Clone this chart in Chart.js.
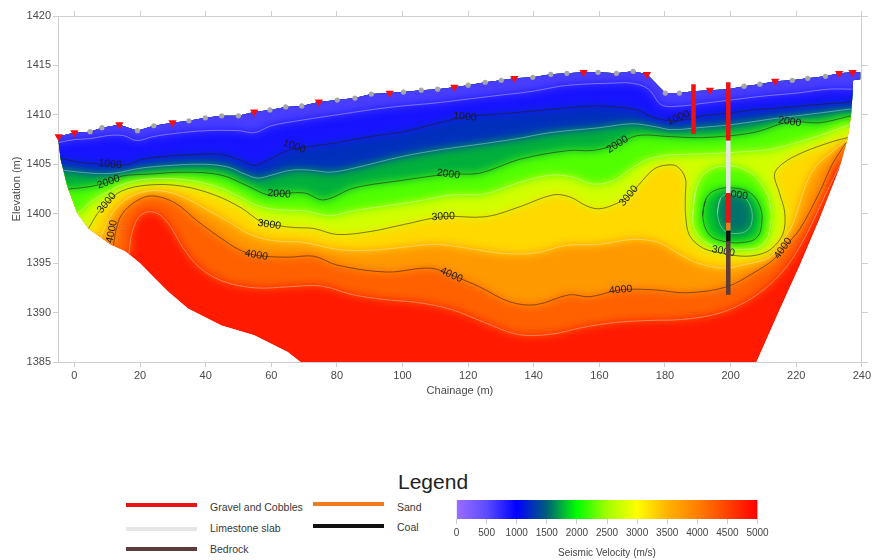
<!DOCTYPE html>
<html>
<head>
<meta charset="utf-8">
<script src="https://cdn.jsdelivr.net/npm/chart.js@4.4.1/dist/chart.umd.min.js"></script>
<style>
  body { margin: 0; background: #fff; font-family: Arial, "Liberation Sans", sans-serif; overflow: hidden; }
  #wrap { position: relative; width: 873px; height: 560px; }
  #main { position: absolute; left: 0; top: 0; }
  #bar { position: absolute; left: 440px; top: 495px; }
  .t { position: absolute; font-size: 10.5px; line-height: 12px; color: #383838; white-space: nowrap; }
  .ln { position: absolute; width: 71px; height: 4px; }
</style>
</head>
<body>
<div id="wrap">
  <canvas id="main" width="873" height="410"></canvas>
  <div class="t" style="left:398px;top:471px;font-size:21px;line-height:21px;color:#222">Legend</div>
  <div id="legendRows"></div>
  <canvas id="bar" width="340" height="65"></canvas>
</div>
<script>
// axes
const xTicks = [0, 20, 40, 60, 80, 100, 120, 140, 160, 180, 200, 220, 240];
const yTicks = [1385, 1390, 1395, 1400, 1405, 1410, 1415, 1420];
const velTicks = [0, 500, 1000, 1500, 2000, 2500, 3000, 3500, 4000, 4500, 5000];

// colour scale (m/s)
const cmapValues = [0, 500, 1000, 1500, 2000, 2500, 3000, 3500, 4000, 4500, 5000];
const cmapColors = ['#9c6cff', '#5b4dff', '#0000ff', '#005f78', '#00ff00', '#a2ff00',
                    '#ffff00', '#ffb300', '#ff7f00', '#ff4200', '#ff0000'];

// ground surface (chainage, elevation)
const surface = [[-5,1407.8],[0,1408.2],[4.8,1408.3],[8.4,1408.7],[13.7,1409.0],[19.2,1408.4],[24.2,1408.9],
  [29.9,1409.2],[34.9,1409.4],[39.9,1409.7],[44.9,1409.9],[50,1409.9],[54.8,1410.3],[59.6,1410.5],[64.4,1410.8],
  [69.3,1410.9],[74.5,1411.3],[80.1,1411.5],[85.5,1411.7],[90.5,1412.1],[96.1,1412.2],[100.3,1412.3],[105.7,1412.5],
  [110.7,1412.6],[115.8,1412.8],[120,1413.0],[125.2,1413.3],[130.1,1413.5],[134.1,1413.7],[139.7,1413.8],[145.2,1414.1],
  [150.1,1414.2],[155.2,1414.3],[159.6,1414.3],[165.2,1414.2],[170.3,1414.4],[174.5,1414.1],[180.1,1412.2],[184.4,1412.2],
  [188.7,1412.4],[193.7,1412.5],[199.3,1412.6],[204.1,1412.9],[208.9,1413.1],[213.6,1413.4],[218.8,1413.5],[223.5,1413.7],
  [228.9,1413.9],[233.1,1414.2],[237.2,1414.3],[239.5,1414.3]];
const rightEdge = [[239.5,1413.6],[237.3,1413.5],[237.2,1412.2],[236.7,1409.9],[235.6,1407.5],[233.1,1404.5],
  [227,1399.4],[221,1394.7],[215,1390.3],[207.9,1385]];
const leftEdge = [[68.9,1385],[65,1386.0],[54.8,1387.7],[44.8,1388.7],[34.6,1390.4],[28.6,1392.1],[23.5,1393.8],
  [20,1395.0],[15.5,1396.2],[10.9,1396.9],[4.3,1398.5],[0.8,1400.1],[-2.2,1402.8],[-4.2,1405.5],[-5,1407.8]];

// shots and geophones on the surface
const shots = [[-4.8,1407.8],[0,1408.2],[13.7,1409.0],[29.9,1409.2],[54.8,1410.3],[74.5,1411.3],[96.1,1412.2],
  [115.8,1412.8],[134.1,1413.7],[155.2,1414.3],[174.5,1414.1],[193.7,1412.5],[213.6,1413.4],[233.1,1414.2],[237.2,1414.3]];
const geophones = [[4.8,1408.3],[8.4,1408.7],[19.2,1408.4],[24.2,1408.9],[34.9,1409.4],[39.9,1409.7],[44.9,1409.9],
  [50,1409.9],[59.6,1410.5],[64.4,1410.8],[69.3,1410.9],[80.1,1411.5],[85.5,1411.7],[90.5,1412.1],[100.3,1412.3],
  [105.7,1412.5],[110.7,1412.6],[120,1413.0],[125.2,1413.3],[130.1,1413.5],[139.7,1413.8],[145.2,1414.1],[150.1,1414.2],
  [159.6,1414.3],[165.2,1414.2],[170.3,1414.4],[180.1,1412.2],[184.4,1412.2],[204.1,1412.9],[208.9,1413.1],
  [218.8,1413.5],[223.5,1413.7],[228.9,1413.9]];

// velocity contours (chainage, elevation), left edge to right edge
const contour750 = [[-4.8,1407.2],[0,1407.5],[5,1407.6],[10,1407.9],[15,1407.9],[19,1407.4],[24,1407.8],[30,1408.1],
  [40,1408.4],[50,1408.4],[55,1408.2],[60,1408.9],[70,1409.5],[80,1410.0],[90,1410.5],[100,1410.9],[110,1411.2],
  [120,1411.6],[130,1412.0],[140,1412.4],[148,1412.9],[155,1413.1],[163,1413.2],[170,1413.2],[175,1412.6],[179,1411.0],
  [185,1410.9],[190,1411.1],[200,1411.5],[210,1411.9],[220,1412.2],[230,1412.6],[237.2,1412.6]];
const contour1000 = [[-4.2,1405.6],[0,1405.3],[4.3,1405.1],[10.9,1405.0],[16.5,1405.0],[20.5,1405.5],[27.6,1405.8],
  [36.7,1406.0],[44.8,1406.0],[50.8,1405.4],[54.8,1404.9],[58.9,1405.4],[65,1406.4],[70,1406.7],[80,1407.2],[90,1407.8],
  [100.3,1408.3],[110,1409.1],[119,1409.8],[130,1410.1],[140,1410.4],[150,1410.7],[158,1410.9],[165,1410.8],
  [171.5,1410.5],[176,1409.8],[181.6,1409.4],[186,1409.5],[191.7,1409.9],[200,1410.2],[206.9,1410.5],[215,1410.7],
  [225,1411.0],[237.0,1411.3]];
const contour1500 = [[-3.5,1404.4],[5,1404.1],[12,1404.1],[20,1404.6],[30,1404.9],[40,1405.0],[47,1404.7],[52,1404.0],
  [56,1403.6],[60,1403.9],[66,1404.4],[72,1404.4],[78,1404.2],[85,1404.6],[100,1405.8],[112,1406.5],[125,1407.1],
  [135,1407.6],[145,1408.2],[160,1408.7],[170,1409.1],[177,1408.8],[182,1408.5],[190,1408.7],[200,1409.0],[215,1409.7],
  [225,1410.1],[236.8,1410.6]];
const contour2000 = [[-1.9,1402.5],[4,1402.7],[10.4,1403.2],[14.4,1403.8],[22.5,1404.0],[34.6,1404.2],[44.8,1403.9],
  [52.8,1402.8],[58.9,1401.9],[62.4,1402.0],[70,1402.1],[76,1401.4],[85.2,1402.6],[98.3,1403.3],[114,1404.0],
  [123.5,1404.1],[135.7,1405.5],[150.8,1406.4],[157.9,1406.4],[165.5,1407.0],[171.5,1407.9],[181.6,1407.8],
  [191.7,1407.7],[206.9,1408.2],[218,1409.3],[227,1409.2],[236.7,1409.9]];
const contour2500 = [[1.0,1400.0],[5,1401.2],[10,1402.2],[15,1403.0],[22,1403.5],[32,1403.5],[42,1402.9],[50,1401.8],
  [56,1400.8],[62,1400.4],[70,1400.3],[78,1399.8],[85,1400.3],[95,1400.8],[105,1401.3],[115,1401.9],[125,1402.0],
  [135,1403.1],[145,1403.9],[152,1403.7],[158,1403.0],[164,1403.3],[169,1404.4],[174,1405.4],[180,1405.9],[186,1406.0],
  [195,1406.1],[205,1406.3],[212,1406.5],[218,1407.0],[227,1407.9],[236.3,1409.0]];
const contour3000 = [[4.3,1398.5],[7,1400.0],[9.9,1401.1],[14.4,1402.3],[22.5,1402.9],[32.6,1402.8],[42.7,1401.9],
  [50.8,1400.6],[56.9,1399.2],[62,1398.8],[67,1398.6],[73,1398.5],[80.1,1397.9],[90.2,1398.2],[100.3,1398.9],
  [112.4,1399.7],[125.5,1399.7],[135.7,1400.7],[145.8,1401.9],[151,1401.7],[156,1400.8],[160,1400.5],[165,1401.0],
  [169,1401.8],[173,1403.3],[176.6,1404.5],[180,1404.9],[183.6,1404.8],[186.2,1403.6],[186.2,1401.8],[186.3,1399.8],
  [187.5,1397.8],[191.7,1396.5],[197.8,1396.0],[203.8,1395.7],[209,1395.9],[212.6,1396.5],[216,1398.0],[216.5,1400.1],
  [214.9,1402.1],[213.4,1404.0],[216,1405.1],[222,1406.2],[231.1,1407.3],[235.7,1407.7]];
const contour3500 = [[8.0,1397.6],[10.5,1399.5],[14,1401.0],[19,1402.0],[25,1402.35],[32,1401.85],[40,1400.5],
  [47,1399.2],[53,1398.0],[60,1397.3],[70,1397.1],[80,1396.4],[90,1396.3],[100,1396.6],[110,1396.9],[120,1396.5],
  [130,1396.0],[140,1396.0],[150,1396.8],[160,1396.9],[170,1397.4],[178,1397.1],[184,1396.0],[190,1395.0],
  [198,1394.5],[205,1394.9],[210,1395.3],[213,1395.9],[216,1397.3],[219,1399.0],[221,1401.0],[223,1403.0],
  [226,1404.8],[230,1406.0],[233,1406.8],[235.5,1407.45]];
const contour4000 = [[11.9,1396.8],[12.8,1398.5],[14.4,1399.9],[18.5,1401.2],[23.5,1401.8],[30.6,1401.1],[37.7,1399.2],
  [44.8,1397.5],[50,1396.4],[55.4,1395.8],[65,1395.6],[73,1395.7],[80.1,1394.8],[95.2,1394.1],[108.4,1394.5],
  [114.9,1393.8],[123.5,1392.6],[132.6,1391.1],[140.7,1390.8],[150.8,1391.8],[157,1391.6],[166.5,1392.3],
  [176.6,1392.3],[186.7,1392.0],[198.8,1392.6],[206.9,1394.0],[212.9,1395.3],[216,1396.5],[221,1398.4],[227,1402.1],
  [231,1405.0],[235.2,1407.2]];
const contour4500 = [[16.6,1395.9],[17.5,1398],[19.5,1399.6],[22.5,1400.2],[26,1399.9],[29.5,1398.6],[33,1396.6],
  [38,1394.6],[45,1393.2],[55,1392.5],[65,1392.6],[75,1392.7],[85,1391.8],[95,1391.3],[105,1391.0],[115,1390.3],
  [125,1389.0],[135,1387.8],[145,1387.8],[155,1388.5],[165,1389.0],[175,1389.2],[185,1389.3],[195,1389.8],
  [203,1390.8],[210,1392.3],[216,1394.2],[221,1396.6],[225.5,1399.5],[229,1402.0],[233.5,1405.0]];

// low-velocity pocket near chainage 200 (closed loops)
const bubble2500 = [[188.5,1400],[189.5,1402.5],[192.5,1404.2],[198,1404.8],[204,1404.5],[209,1403.2],[212,1401],
  [212,1398.5],[209.5,1396.8],[204,1396.4],[197,1396.6],[192,1397.2],[189,1398.5]];
const bubble2000 = [[191.5,1399.8],[192.5,1401.5],[195.5,1402.4],[201,1402.6],[206,1402.1],[209,1400.7],[209.5,1399],
  [208,1397.6],[204,1397.1],[198,1397.2],[193.5,1397.9]];
const bubble1500 = [[196,1400],[197,1401.6],[200,1402],[203.5,1401.8],[206,1400.8],[206.5,1399.2],[205,1398.3],
  [201.5,1398.0],[198,1398.3]];

// level, contour, fill value of the region above it
const bandLevels = [4500, 4000, 3500, 3000, 2500, 2000, 1500, 1000, 750];
const bandContours = [contour4500, contour4000, contour3500, contour3000, contour2500, contour2000, contour1500, contour1000, contour750];
const bandFill = [4250, 3750, 3250, 2750, 2250, 1750, 1250, 875, 600];
const deepFill = 4800;
const labelledLevels = [1000, 2000, 3000, 4000];

// contour labels: text, chainage, elevation, angle
const contourLabels = [
  ['1000',10.9,1405.0,6],['1000',67,1406.8,20],['1000',119,1409.8,4],['1000',184.1,1409.7,-22],
  ['2000',10.4,1403.2,-20],['2000',62.4,1402.0,4],['2000',114,1404.0,8],['2000',165.5,1407.0,-32],
  ['2000',218,1409.3,8],['2000',201.8,1401.9,8],
  ['3000',9.9,1401.1,-50],['3000',59.4,1398.9,8],['3000',112.4,1399.7,-3],['3000',169,1401.8,-50],['3000',197.8,1396.2,10],
  ['4000',11.4,1398.2,-78],['4000',55.4,1395.8,10],['4000',114.9,1393.8,25],['4000',166.5,1392.3,-5],['4000',216,1396.5,-55]
];

// boreholes: chainage, top, bottom, unit
const boreholeLogs = [
  [188.7,1413.1,1408.1,'Gravel and Cobbles'],
  [199.3,1413.3,1407.4,'Gravel and Cobbles'],
  [199.3,1407.4,1402.1,'Limestone slab'],
  [199.3,1402.1,1399.1,'Gravel and Cobbles'],
  [199.3,1399.1,1398.3,'Sand'],
  [199.3,1398.3,1397.2,'Coal'],
  [199.3,1397.2,1391.8,'Bedrock']
];
const unitColors = {
  'Gravel and Cobbles': '#ee1111', 'Limestone slab': '#e6e6e6', 'Bedrock': '#5e3b3b',
  'Sand': '#f07a20', 'Coal': '#111111'
};

function hexRgb(h){ return [1,3,5].map(i => parseInt(h.slice(i, i+2), 16)); }
function colorAt(v){
  for (let i = 1; i < cmapValues.length; i++){
    if (v <= cmapValues[i]){
      const t = (v - cmapValues[i-1]) / (cmapValues[i] - cmapValues[i-1]);
      const a = hexRgb(cmapColors[i-1]), b = hexRgb(cmapColors[i]);
      return `rgb(${a.map((x,k) => Math.round(x + (b[k]-x)*t)).join(',')})`;
    }
  }
  return cmapColors[cmapColors.length-1];
}
const pts = arr => arr.map(([x,y]) => ({x, y}));

const X_MIN = -5, X_MAX = 240, Y_MIN = 1385, Y_MAX = 1420;
const domainRing = [...surface, ...rightEdge, ...leftEdge];

// region above a contour, pushed out past the section so the section outline clips it
function regionAbove(c){
  const first = c[0], last = c[c.length-1];
  return [{x: X_MIN-35, y: first[1]}, ...pts(c), {x: X_MAX+40, y: last[1]}, {x: X_MAX+40, y: Y_MAX+20}, {x: X_MIN-35, y: Y_MAX+20}];
}

const datasets = [];
datasets.push({ kind: 'base', data: pts(domainRing), showLine: true, fill: 'shape', backgroundColor: colorAt(deepFill),
  borderWidth: 0, pointRadius: 0, tension: 0, order: 300 });

bandContours.forEach((c, i) => {
  datasets.push({ kind: 'band', data: regionAbove(c), showLine: true, fill: 'shape', backgroundColor: colorAt(bandFill[i]),
    borderWidth: 0, pointRadius: 0, tension: 0.35, order: 250 - i*10 });
});
[[bubble2500, 2250, 215], [bubble2000, 1800, 205], [bubble1500, 1560, 195]].forEach(([loop, v, ord]) => {
  datasets.push({ kind: 'band', data: pts([...loop, loop[0]]), showLine: true, fill: 'shape', backgroundColor: colorAt(v),
    borderWidth: 0, pointRadius: 0, tension: 0.4, order: ord });
});

function strokeStyle(level){
  return labelledLevels.includes(level) ? 'rgba(40,30,20,0.55)' : 'rgba(255,255,255,0.35)';
}
bandContours.forEach((c, i) => {
  datasets.push({ kind: 'stroke', data: pts(c), showLine: true, fill: false, borderColor: strokeStyle(bandLevels[i]),
    borderWidth: 1, pointRadius: 0, tension: 0.35, order: 50 });
});
[[bubble2500, 2500], [bubble2000, 2000], [bubble1500, 1500]].forEach(([loop, lvl]) => {
  datasets.push({ kind: 'stroke', data: pts([...loop, loop[0], loop[1]]), showLine: true, fill: false,
    borderColor: strokeStyle(lvl), borderWidth: 1, pointRadius: 0, tension: 0.4, order: 50 });
});

boreholeLogs.forEach(([c, top, bottom, unit]) => {
  datasets.push({ kind: 'hole', data: pts([[c, top], [c, bottom]]), showLine: true, fill: false,
    borderColor: unitColors[unit], borderWidth: 4.5, borderCapStyle: 'butt', pointRadius: 0, order: 10, clip: false });
});

datasets.push({ kind: 'marker', data: pts(geophones), showLine: false, pointStyle: 'circle', pointRadius: 2.6,
  pointBackgroundColor: '#a6a6a6', pointBorderWidth: 0, order: 6, clip: false });
datasets.push({ kind: 'marker', data: pts(shots), showLine: false, pointStyle: 'triangle', pointRotation: 180,
  pointRadius: 4.8, pointBackgroundColor: '#f01010', pointBorderWidth: 0, order: 5, clip: false });

function drawLabels(chart){
  const ctx = chart.ctx, sx = chart.scales.x, sy = chart.scales.y;
  ctx.save();
  ctx.font = '10.5px Arial, "Liberation Sans", sans-serif';
  ctx.fillStyle = '#1c1c1c';
  ctx.textAlign = 'center';
  ctx.textBaseline = 'middle';
  contourLabels.forEach(([txt, c, e, ang]) => {
    ctx.save();
    ctx.translate(sx.getPixelForValue(c), sy.getPixelForValue(e));
    ctx.rotate(ang * Math.PI / 180);
    ctx.fillText(txt, 0, 0);
    ctx.restore();
  });
  ctx.restore();
}

// clip the velocity field to the section outline and soften the band edges
const sectionPlugin = {
  id: 'section',
  beforeDatasetsDraw(chart){
    const ctx = chart.ctx, sx = chart.scales.x, sy = chart.scales.y;
    ctx.save();
    ctx.beginPath();
    domainRing.forEach(([c, e], i) => {
      const px = sx.getPixelForValue(c), py = sy.getPixelForValue(e);
      if (i) ctx.lineTo(px, py); else ctx.moveTo(px, py);
    });
    ctx.closePath();
    ctx.clip();
    chart.$sectionClip = true;
  },
  beforeDatasetDraw(chart, args){
    const ds = chart.data.datasets[args.index];
    if (ds.kind === 'stroke') chart.ctx.filter = 'none';
    if ((ds.kind === 'hole' || ds.kind === 'marker') && chart.$sectionClip){
      chart.ctx.restore();
      chart.$sectionClip = false;
      drawLabels(chart);
    }
  },
  afterDatasetDraw(chart, args){
    if (chart.data.datasets[args.index].kind === 'base') chart.ctx.filter = 'blur(5px)';
  },
  afterDatasetsDraw(chart){
    if (chart.$sectionClip){ chart.ctx.restore(); chart.$sectionClip = false; drawLabels(chart); }
  }
};

const axisGrey = '#cfcfcf';
const tickFont = { family: 'Arial, "Liberation Sans", sans-serif', size: 11 };
function fixedTicks(values){ return s => { s.ticks = values.map(v => ({ value: v })); }; }

new Chart(document.getElementById('main'), {
  type: 'scatter',
  data: { datasets },
  options: {
    responsive: false,
    animation: false,
    events: [],
    layout: { padding: { top: 16, right: 9, left: 0, bottom: 0 } },
    elements: { line: { capBezierPoints: false } },
    plugins: { legend: { display: false }, tooltip: { enabled: false } },
    scales: {
      x: {
        type: 'linear', position: 'bottom', min: X_MIN, max: X_MAX,
        afterBuildTicks: fixedTicks(xTicks), afterFit: s => { s.height = 48; },
        grid: { drawOnChartArea: false, drawTicks: true, tickLength: 5, color: axisGrey },
        border: { color: axisGrey },
        ticks: { color: '#4a4a4a', font: tickFont, padding: 2, maxRotation: 0, autoSkip: false, callback: v => String(v) },
        title: { display: true, text: 'Chainage (m)', color: '#4a4a4a', font: tickFont, padding: { top: 0, bottom: 12 } }
      },
      xTop: {
        type: 'linear', position: 'top', min: X_MIN, max: X_MAX,
        afterBuildTicks: fixedTicks(xTicks), afterFit: s => { s.height = 0; },
        grid: { drawOnChartArea: false, drawTicks: true, tickLength: 5, color: axisGrey },
        border: { color: axisGrey },
        ticks: { display: false }
      },
      y: {
        type: 'linear', position: 'left', min: Y_MIN, max: Y_MAX,
        afterBuildTicks: fixedTicks(yTicks), afterFit: s => { s.width = 58; },
        grid: { drawOnChartArea: false, drawTicks: true, tickLength: 5, color: axisGrey },
        border: { color: axisGrey },
        ticks: { color: '#4a4a4a', font: tickFont, padding: 2, autoSkip: false, callback: v => String(v) },
        title: { display: true, text: 'Elevation (m)', color: '#4a4a4a', font: tickFont, padding: { top: 10, bottom: 0 } }
      },
      yRight: {
        type: 'linear', position: 'right', min: Y_MIN, max: Y_MAX,
        afterBuildTicks: fixedTicks(yTicks), afterFit: s => { s.width = 0; },
        grid: { drawOnChartArea: false, drawTicks: true, tickLength: 6, color: axisGrey },
        border: { color: axisGrey },
        ticks: { display: false }
      }
    }
  },
  plugins: [sectionPlugin]
});

// lithology legend
const legendItems = [
  ['Gravel and Cobbles', 126, 503, 210, 500.5],
  ['Limestone slab', 126, 526.5, 210, 522],
  ['Bedrock', 126, 546.5, 210, 542.5],
  ['Sand', 313, 501.5, 397, 500.5],
  ['Coal', 313, 524, 397, 520.5]
];
document.getElementById('legendRows').innerHTML = legendItems.map(([name, lx, ly, tx, ty]) =>
  `<div class="ln" style="left:${lx}px;top:${ly}px;background:${unitColors[name]}"></div>` +
  `<div class="t" style="left:${tx}px;top:${ty}px">${name}</div>`).join('');

// colour bar
new Chart(document.getElementById('bar'), {
  type: 'bar',
  data: {
    labels: ['v'],
    datasets: [{
      data: [[cmapValues[0], cmapValues[cmapValues.length-1]]],
      backgroundColor: (c) => {
        const a = c.chart.chartArea;
        if (!a) return cmapColors[0];
        const g = c.chart.ctx.createLinearGradient(a.left, 0, a.right, 0);
        cmapValues.forEach((v, i) => g.addColorStop(v / 5000, cmapColors[i]));
        return g;
      },
      borderWidth: 0, barPercentage: 1, categoryPercentage: 1
    }]
  },
  options: {
    indexAxis: 'y', responsive: false, animation: false, events: [],
    layout: { padding: { left: 16.5, right: 22.5, top: 5, bottom: 0 } },
    plugins: { legend: { display: false }, tooltip: { enabled: false } },
    scales: {
      y: { display: false },
      x: {
        min: 0, max: 5000,
        afterBuildTicks: fixedTicks(velTicks), afterFit: s => { s.height = 41; },
        grid: { drawOnChartArea: false, drawTicks: true, tickLength: 5, color: '#cccccc' },
        border: { display: false },
        ticks: { color: '#444', font: { family: tickFont.family, size: 10 }, padding: 3, maxRotation: 0, autoSkip: false, callback: v => String(v) },
        title: { display: true, text: 'Seismic Velocity (m/s)', color: '#444', font: { family: tickFont.family, size: 10 }, padding: { top: 0, bottom: 1 } }
      }
    }
  }
});
</script>
</body>
</html>
